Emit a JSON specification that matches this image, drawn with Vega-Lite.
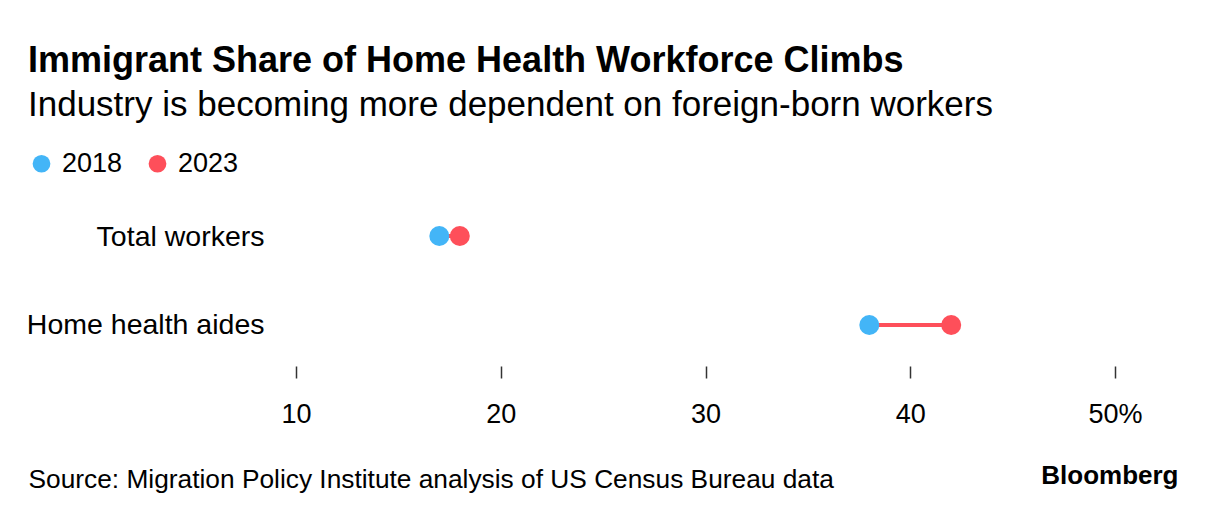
{
  "$schema": "https://vega.github.io/schema/vega-lite/v6.json",
  "autosize": {"type": "none"},
  "width": 819,
  "height": 171,
  "padding": {"left": 296, "top": 195, "right": 101, "bottom": 154},
  "background": "#ffffff",
  "config": {
    "font": "Liberation Sans",
    "view": {"stroke": null}
  },
  "title": {
    "text": "Immigrant Share of Home Health Workforce Climbs",
    "subtitle": "Industry is becoming more dependent on foreign-born workers",
    "anchor": "start",
    "frame": "group",
    "dx": -268,
    "dy": -16,
    "fontSize": 36,
    "fontWeight": "bold",
    "color": "#000000",
    "subtitleFontSize": 35,
    "subtitleColor": "#000000",
    "subtitlePadding": 8,
    "offset": 10
  },
  "data": {
    "values": [
      {"category": "Total workers", "year": "2018", "share": 17.0},
      {"category": "Total workers", "year": "2023", "share": 18.0},
      {"category": "Home health aides", "year": "2018", "share": 38.0},
      {"category": "Home health aides", "year": "2023", "share": 42.0}
    ]
  },
  "encoding": {
    "y": {
      "field": "category",
      "type": "nominal",
      "sort": ["Total workers", "Home health aides"],
      "scale": {"type": "point", "padding": 0.461},
      "axis": {
        "title": "Bloomberg",
        "titleAngle": 0,
        "titleAlign": "right",
        "titleBaseline": "alphabetic",
        "titleX": 882,
        "titleY": 288,
        "titleFontSize": 26,
        "titleFontWeight": "bold",
        "titleColor": "#000000",
        "domain": false,
        "ticks": false,
        "labelPadding": 32,
        "labelFontSize": 28.5,
        "labelColor": "#000000",
        "labelLimit": 400
      }
    },
    "x": {
      "field": "share",
      "type": "quantitative",
      "scale": {"domain": [10, 50], "nice": false, "zero": false},
      "axis": {
        "values": [10, 20, 30, 40, 50],
        "labelExpr": "datum.value == 50 ? '50%' : datum.label",
        "labelFlush": false,
        "labelOverlap": false,
        "domain": false,
        "grid": false,
        "tickSize": 12,
        "tickColor": "#333333",
        "tickWidth": 1.5,
        "labelPadding": 23,
        "labelFontSize": 27,
        "labelColor": "#000000",
        "title": "Source: Migration Policy Institute analysis of US Census Bureau data",
        "titleAnchor": "start",
        "titleAlign": "left",
        "titleBaseline": "alphabetic",
        "titleX": -268,
        "titleY": 121,
        "titleFontSize": 26.3,
        "titleFontWeight": "normal",
        "titleColor": "#000000"
      }
    }
  },
  "layer": [
    {
      "mark": {"type": "line", "color": "#fe4f5a", "strokeWidth": 4},
      "encoding": {"detail": {"field": "category"}}
    },
    {
      "mark": {"type": "circle", "size": 400, "opacity": 1},
      "encoding": {
        "color": {
          "field": "year",
          "type": "nominal",
          "scale": {"domain": ["2018", "2023"], "range": ["#43b5f7", "#fe4f5a"]},
          "legend": {
            "title": null,
            "orient": "none",
            "direction": "horizontal",
            "legendX": -268,
            "legendY": -45,
            "symbolType": "circle",
            "symbolSize": 314,
            "symbolOpacity": 1,
            "labelFontSize": 27,
            "labelColor": "#000000",
            "labelOffset": 7,
            "columnPadding": 21
          }
        }
      }
    }
  ]
}
